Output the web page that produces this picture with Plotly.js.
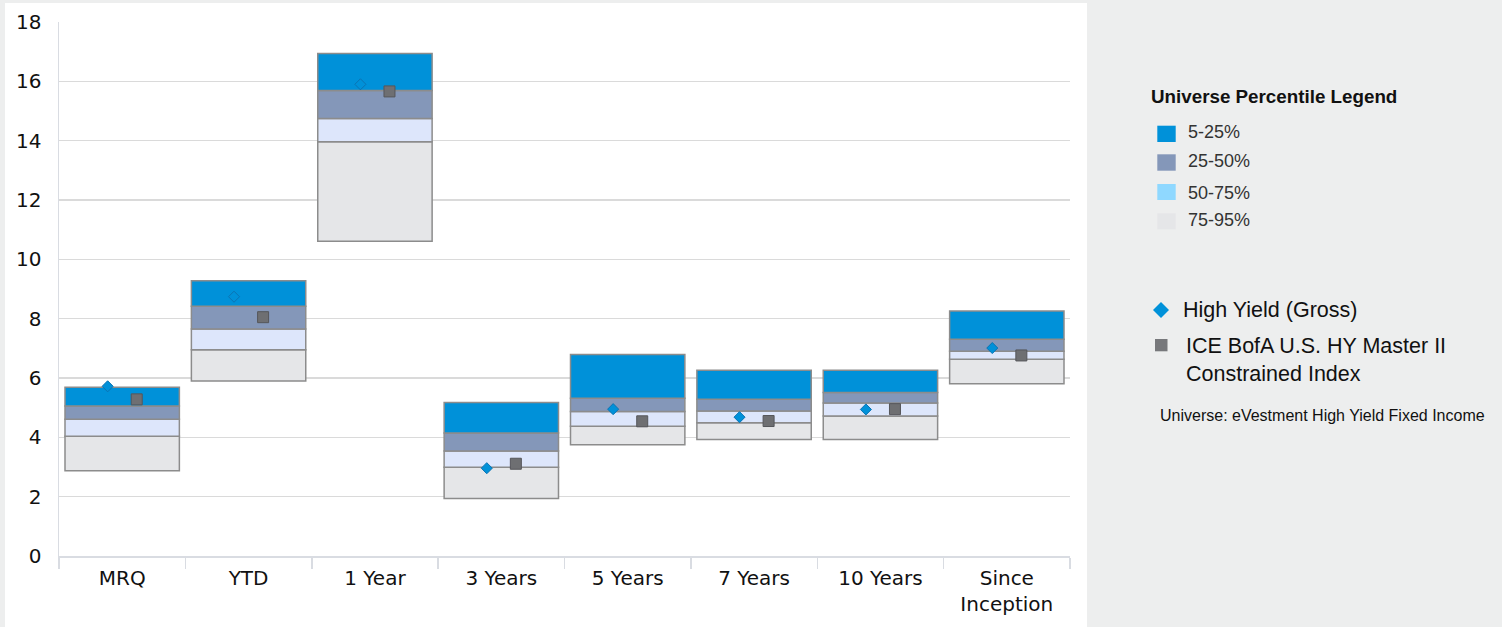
<!DOCTYPE html>
<html><head><meta charset="utf-8">
<script src="https://cdn.plot.ly/plotly-3.0.1.min.js"></script>
<style>html,body{margin:0;padding:0;background:#edeeee;overflow:hidden} #chart{width:1502px;height:627px;}</style>
</head><body><div id="chart"></div>
<script>
// ---- data ----
const categories = ['MRQ', 'YTD', '1 Year', '3 Years', '5 Years', '7 Years', '10 Years', 'Since<br>Inception'];
const p5  = [5.69, 9.28, 16.94, 5.17, 6.79, 6.26, 6.26, 8.26];
const p25 = [5.06, 8.42, 15.69, 4.15, 5.32, 5.28, 5.51, 7.31];
const p50 = [4.61, 7.65, 14.75, 3.54, 4.87, 4.89, 5.16, 6.90];
const p75 = [4.04, 6.95, 13.96, 2.99, 4.37, 4.49, 4.72, 6.63];
const p95 = [2.87, 5.90, 10.61, 1.94, 3.75, 3.93, 3.93, 5.81];
const highYield = [5.72, 8.74, 15.90, 2.96, 4.95, 4.68, 4.94, 7.01];
const benchmark = [5.28, 8.05, 15.66, 3.11, 4.54, 4.55, 4.95, 6.76];
const yTicks = [0, 2, 4, 6, 8, 10, 12, 14, 16, 18];
const bandNames = ['5-25%', '25-50%', '50-75%', '75-95%'];
const seriesNames = ['High Yield (Gross)', 'ICE BofA U.S. HY Master II<br>Constrained Index'];
const legendTitle = 'Universe Percentile Legend';
const universeNote = 'Universe: eVestment High Yield Fixed Income';

// ---- styles ----
const bandColors = ['#0091d9', '#8497b9', '#dde6fb', '#e5e6e8'];
const legendSwatchColors = ['#0091d9', '#8497b9', '#8fd8ff', '#e5e6e8'];
const outline = '#8c8c8c';

const idx = categories.map((c, i) => i);
const tops = [p5, p25, p50, p75];
const bottoms = [p25, p50, p75, p95];

const traces = [];
for (let b = 3; b >= 0; b--) {
  traces.push({
    type: 'bar', name: bandNames[b], x: idx,
    base: bottoms[b], y: tops[b].map((v, i) => v - bottoms[b][i]),
    width: 0.905,
    marker: {color: bandColors[b], line: {color: outline, width: 1.5}},
    showlegend: false, hoverinfo: 'skip'
  });
}
traces.push({
  type: 'scatter', mode: 'markers', name: seriesNames[0],
  x: idx.map(i => i - 0.115), y: highYield,
  marker: {symbol: 'diamond', size: 8.5, color: '#0091d9', line: {color: '#0b74b3', width: 1}},
  showlegend: false
});
traces.push({
  type: 'scatter', mode: 'markers', name: seriesNames[1],
  x: idx.map(i => i + 0.115), y: benchmark,
  marker: {symbol: 'square', size: 11, color: '#6e6f72', line: {color: '#55565a', width: 1}},
  showlegend: false
});

// pixel -> paper helpers (plot area: x 59..1070, y 22..556)
const L = 59, R = 1070, T = 22, B = 556;
const px = v => (v - L) / (R - L);
const py = v => (B - v) / (B - T);

const shapes = [
  {type: 'rect', xref: 'paper', yref: 'paper', layer: 'below',
   x0: px(5), x1: px(1087), y0: py(3), y1: py(640),
   fillcolor: '#ffffff', line: {width: 0}}
];
const swatchY = [[125.7, 142], [154.3, 170.7], [184, 200], [213.3, 229.3]];
const labelY = [131.7, 160.7, 192.7, 220];
const annotations = [
  {xref: 'paper', yref: 'paper', x: px(1149), y: py(96), xanchor: 'left', yanchor: 'middle',
   text: '<b>' + legendTitle + '</b>', showarrow: false,
   font: {family: 'Liberation Sans, Arial, sans-serif', size: 18.8, color: '#111'}}
];
for (let b = 0; b < 4; b++) {
  shapes.push({type: 'rect', xref: 'paper', yref: 'paper',
    x0: px(1157.3), x1: px(1175.7), y0: py(swatchY[b][1]), y1: py(swatchY[b][0]),
    fillcolor: legendSwatchColors[b], line: {width: 0}});
  annotations.push({xref: 'paper', yref: 'paper', x: px(1186), y: py(labelY[b]),
    xanchor: 'left', yanchor: 'middle', text: bandNames[b], showarrow: false,
    font: {family: 'Liberation Sans, Arial, sans-serif', size: 18, color: '#333'}});
}
// diamond symbol
const dcx = px(1161), dcy = py(310), dw = 8 / (R - L), dh = 8 / (B - T);
shapes.push({type: 'path', xref: 'paper', yref: 'paper',
  path: `M ${dcx - dw} ${dcy} L ${dcx} ${dcy + dh} L ${dcx + dw} ${dcy} L ${dcx} ${dcy - dh} Z`,
  fillcolor: '#0091d9', line: {width: 0}});
shapes.push({type: 'rect', xref: 'paper', yref: 'paper',
  x0: px(1155), x1: px(1167.5), y0: py(351.3), y1: py(339),
  fillcolor: '#77787b', line: {width: 0}});
annotations.push({xref: 'paper', yref: 'paper', x: px(1180.5), y: py(310.5), xanchor: 'left', yanchor: 'middle',
  text: seriesNames[0], showarrow: false, font: {family: 'Liberation Sans, Arial, sans-serif', size: 21.5, color: '#111'}});
annotations.push({xref: 'paper', yref: 'paper', x: px(1183.5), y: py(359.5), xanchor: 'left', yanchor: 'middle', align: 'left',
  text: seriesNames[1], showarrow: false, font: {family: 'Liberation Sans, Arial, sans-serif', size: 21.5, color: '#111'}});
annotations.push({xref: 'paper', yref: 'paper', x: px(1157.5), y: py(415), xanchor: 'left', yanchor: 'middle',
  text: universeNote, showarrow: false, font: {family: 'Liberation Sans, Arial, sans-serif', size: 16, color: '#111'}});

const boundaries = [];
for (let i = 0; i <= categories.length; i++) boundaries.push(i - 0.5);

const layout = {
  width: 1502, height: 627,
  margin: {l: L, r: 1502 - R, t: T, b: 627 - B, pad: 0},
  paper_bgcolor: '#edeeee', plot_bgcolor: 'rgba(0,0,0,0)',
  barmode: 'overlay', showlegend: false,
  font: {family: 'DejaVu Sans, Verdana, sans-serif', color: '#111'},
  xaxis: {
    range: [-0.5, categories.length - 0.5], fixedrange: true,
    tickmode: 'array', tickvals: idx, ticktext: categories, ticks: '',
    showgrid: false, zeroline: false, showline: true, linecolor: '#d9dce2', linewidth: 1.5,
    ticklabelstandoff: 3,
    tickfont: {family: 'DejaVu Sans, Verdana, sans-serif', size: 20, color: '#111'},
    minor: {tickmode: 'array', tickvals: boundaries, ticks: 'outside', ticklen: 11, tickcolor: '#d9dce2', tickwidth: 1.5, showgrid: false}
  },
  yaxis: {
    range: [0, 18], fixedrange: true, tickmode: 'array', tickvals: yTicks,
    ticks: '', showgrid: true, gridcolor: '#dadada', gridwidth: 1.5,
    zeroline: false, showline: true, linecolor: '#d9dce2', linewidth: 1.5,
    ticklabelstandoff: 12,
    tickfont: {family: 'DejaVu Sans, Verdana, sans-serif', size: 20, color: '#111'}
  },
  shapes: shapes, annotations: annotations
};
Plotly.newPlot('chart', traces, layout, {displayModeBar: false, staticPlot: true});
</script></body></html>
